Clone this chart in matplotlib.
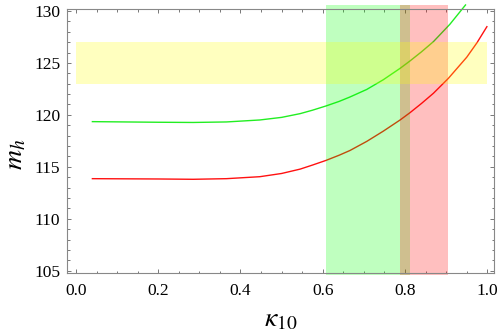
import matplotlib
matplotlib.use("Agg")
import matplotlib.pyplot as plt
from matplotlib.ticker import MultipleLocator

plt.rcParams['mathtext.fontset'] = 'stix'
plt.rcParams['font.family'] = ['Liberation Serif', 'DejaVu Serif']

# Curves
green_x = [0.04, 0.12, 0.20, 0.285, 0.366, 0.447, 0.50, 0.545, 0.575, 0.608, 0.64, 0.666, 0.707,
           0.747, 0.788, 0.812, 0.84, 0.869, 0.909, 0.947]
green_y = [119.35, 119.32, 119.29, 119.27, 119.32, 119.51, 119.76, 120.12, 120.45, 120.86, 121.3,
           121.72, 122.45, 123.38, 124.48, 125.19, 126.07, 127.05, 128.72, 130.58]

red_x = [0.04, 0.20, 0.285, 0.366, 0.447, 0.50, 0.545, 0.575, 0.608, 0.64, 0.666, 0.707, 0.747,
         0.788, 0.812, 0.84, 0.869, 0.905, 0.95, 0.975, 0.999]
red_y = [113.86, 113.83, 113.80, 113.86, 114.05, 114.36, 114.78, 115.17, 115.62, 116.12, 116.57,
         117.45, 118.43, 119.51, 120.21, 121.1, 122.08, 123.5, 125.55, 126.95, 128.49]

# Bands
yellow_band_x = [0.0, 1.0]
yellow_band_y = [123.0, 127.0]
green_band_x = [0.607, 0.812]
red_band_x = [0.788, 0.905]
band_y = [104.6, 130.55]

xticks = [0.0, 0.2, 0.4, 0.6, 0.8, 1.0]
xtick_labels = ['0.0', '0.2', '0.4', '0.6', '0.8', '1.0']
yticks = [105, 110, 115, 120, 125, 130]

fig = plt.figure(figsize=(4.98, 3.36), dpi=100)
ax = fig.add_axes([67.3 / 498, 1 - 273 / 336, (494.3 - 67.3) / 498, (273 - 8.5) / 336])

ax.plot(green_x, green_y, color='#22ee22', lw=1.0, zorder=2, clip_on=False)
ax.plot(red_x, red_y, color='#ff1111', lw=1.0, zorder=2, clip_on=False)

ax.fill_between(green_band_x, band_y[0], band_y[1], color=(0, 1, 0), alpha=0.25, lw=0,
                zorder=3, clip_on=False)
ax.fill_between(red_band_x, band_y[0], band_y[1], color=(1, 0, 0), alpha=0.25, lw=0,
                zorder=3, clip_on=False)
ax.fill_between(yellow_band_x, yellow_band_y[0], yellow_band_y[1], color=(1, 1, 0), alpha=0.25,
                lw=0, zorder=4, clip_on=False)

ax.set_xlim(-0.021, 1.017)
ax.set_ylim(104.78, 130.24)
ax.set_xticks(xticks)
ax.set_xticklabels(xtick_labels)
ax.set_yticks(yticks)
ax.xaxis.set_minor_locator(MultipleLocator(0.05))
ax.yaxis.set_minor_locator(MultipleLocator(1))

for s in ax.spines.values():
    s.set_color('#888888')
    s.set_linewidth(0.8)
    s.set_zorder(5)

ax.tick_params(which='both', direction='in', top=True, right=True, color='#777777', width=0.7)
ax.tick_params(which='major', length=3.2, labelsize=12.5, pad=5)
ax.tick_params(which='minor', length=1.8)
ax.tick_params(axis='x', which='major', pad=7)

ax.set_xlabel(r'$\kappa_{10}$', fontsize=20)
ax.xaxis.set_label_coords(0.5, -0.13)
ax.set_ylabel(r'$m_h$', fontsize=20, rotation=90)
ax.yaxis.set_label_coords(-0.092, 0.45)

fig.savefig('out.png', dpi=100)
